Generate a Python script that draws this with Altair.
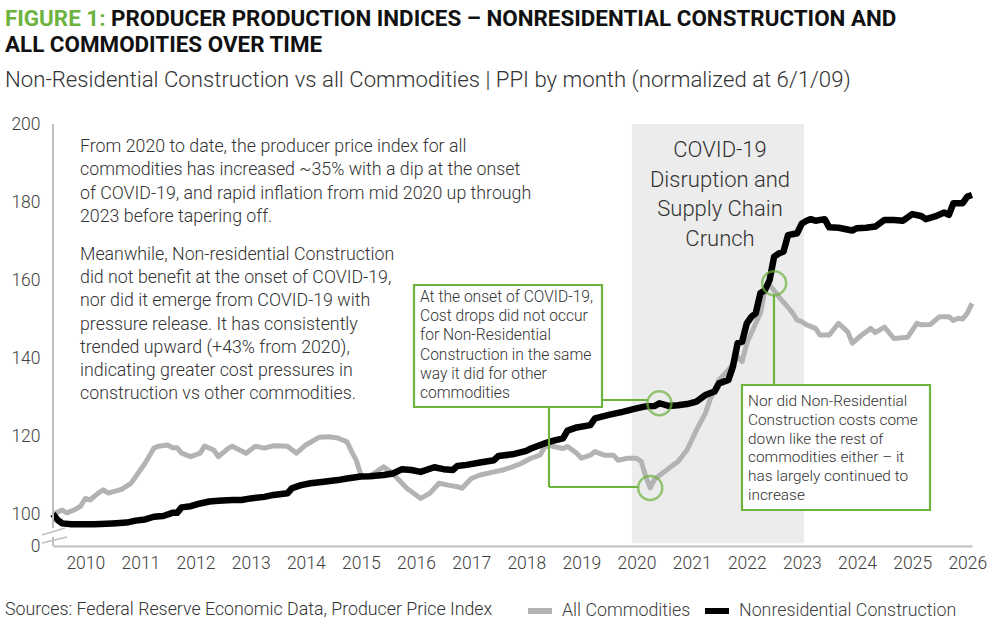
import altair as alt
import pandas as pd

# ---- Producer price indices, normalized to 100 at June 2009 ----
commodities_months = [
    "2009-06", "2009-08", "2009-09", "2009-11", "2009-12", "2010-01", "2010-02", "2010-04",
    "2010-05", "2010-06", "2010-08", "2010-09", "2010-11", "2010-12", "2011-02", "2011-04",
    "2011-05", "2011-07", "2011-08", "2011-09", "2011-10", "2011-12", "2012-02", "2012-03",
    "2012-05", "2012-06", "2012-08", "2012-09", "2012-12", "2013-02", "2013-04", "2013-06",
    "2013-09", "2013-11", "2014-01", "2014-04", "2014-06", "2014-08", "2014-10", "2014-11",
    "2014-12", "2015-01", "2015-02", "2015-03", "2015-05", "2015-06", "2015-07", "2015-09",
    "2015-11", "2016-01", "2016-02", "2016-04", "2016-06", "2016-08", "2016-10", "2016-11",
    "2017-01", "2017-03", "2017-06", "2017-08", "2017-10", "2017-12", "2018-02", "2018-04",
    "2018-05", "2018-06", "2018-07", "2018-09", "2018-10", "2018-12", "2019-01", "2019-03",
    "2019-04", "2019-06", "2019-08", "2019-09", "2019-11", "2020-01", "2020-02", "2020-03",
    "2020-04", "2020-05", "2020-08", "2020-10", "2020-12", "2021-02", "2021-04", "2021-05",
    "2021-07", "2021-09", "2021-11", "2021-12", "2022-01", "2022-03", "2022-04", "2022-05",
    "2022-06", "2022-08", "2022-10", "2022-11", "2022-12", "2023-01", "2023-02", "2023-04",
    "2023-05", "2023-07", "2023-09", "2023-11", "2023-12", "2024-02", "2024-03", "2024-04",
    "2024-05", "2024-07", "2024-09", "2024-12", "2025-02", "2025-03", "2025-05", "2025-07",
    "2025-09", "2025-10", "2025-11", "2025-12", "2026-01", "2026-02",
]
commodities_values = [
    100.0, 101.0, 100.3, 101.3, 102.0, 104.0, 103.6, 105.5,
    106.2, 105.4, 106.0, 106.4, 107.9, 109.6, 113.0, 116.9,
    117.4, 117.7, 117.0, 117.0, 115.6, 114.7, 115.6, 117.4,
    116.4, 114.7, 116.7, 117.4, 115.6, 117.4, 116.9, 117.5,
    117.4, 115.6, 117.7, 119.7, 119.8, 119.5, 118.5, 116.0,
    113.8, 110.0, 109.6, 109.6, 111.3, 112.1, 111.3, 109.1,
    106.6, 104.9, 104.0, 105.3, 107.9, 107.4, 107.0, 106.6,
    109.1, 110.0, 110.8, 111.3, 112.1, 113.0, 114.3, 115.1,
    117.0, 117.7, 117.3, 116.8, 117.3, 115.6, 114.3, 115.1,
    116.0, 115.1, 115.1, 113.8, 114.3, 114.3, 113.5, 109.8,
    106.7, 109.0, 111.7, 113.4, 116.4, 121.5, 125.8, 129.2,
    134.4, 136.9, 140.3, 139.1, 143.8, 148.9, 151.5, 157.4,
    158.8, 155.7, 153.0, 151.5, 149.7, 149.3, 148.5, 147.6,
    145.9, 145.9, 148.9, 146.7, 143.8, 145.9, 146.7, 147.6,
    146.5, 147.9, 145.0, 145.3, 148.9, 148.5, 148.6, 150.6,
    150.6, 149.6, 150.2, 150.0, 151.5, 154.0,
]

construction_months = [
    "2009-06", "2009-07", "2009-08", "2009-10", "2009-12", "2010-03", "2010-07", "2010-10",
    "2010-12", "2011-02", "2011-04", "2011-06", "2011-08", "2011-09", "2011-10", "2011-12",
    "2012-02", "2012-04", "2012-06", "2012-09", "2012-11", "2013-01", "2013-04", "2013-06",
    "2013-09", "2013-10", "2013-12", "2014-02", "2014-05", "2014-08", "2014-10", "2015-01",
    "2015-03", "2015-06", "2015-08", "2015-10", "2015-12", "2016-02", "2016-05", "2016-07",
    "2016-09", "2016-10", "2016-12", "2017-03", "2017-06", "2017-07", "2017-10", "2018-01",
    "2018-02", "2018-05", "2018-07", "2018-09", "2018-10", "2018-12", "2019-03", "2019-04",
    "2019-07", "2019-10", "2020-01", "2020-03", "2020-05", "2020-06", "2020-08", "2020-10",
    "2020-12", "2021-02", "2021-04", "2021-06", "2021-07", "2021-09", "2021-10", "2021-11",
    "2021-12", "2022-01", "2022-02", "2022-03", "2022-04", "2022-05", "2022-06", "2022-07",
    "2022-08", "2022-09", "2022-10", "2022-12", "2023-01", "2023-02", "2023-03", "2023-04",
    "2023-06", "2023-07", "2023-09", "2023-12", "2024-01", "2024-03", "2024-05", "2024-07",
    "2024-09", "2024-11", "2025-01", "2025-03", "2025-04", "2025-06", "2025-08", "2025-09",
    "2025-10", "2025-12", "2026-01", "2026-02",
]
construction_values = [
    100.0, 98.5, 97.6, 97.4, 97.4, 97.4, 97.6, 97.8,
    98.3, 98.6, 99.3, 99.5, 100.3, 100.3, 101.7, 102.0,
    102.7, 103.2, 103.4, 103.6, 103.6, 104.0, 104.4, 104.9,
    105.3, 106.6, 107.4, 107.9, 108.3, 108.7, 109.1, 109.6,
    109.7, 110.0, 110.4, 111.5, 111.3, 110.8, 112.0, 111.5,
    111.3, 112.3, 112.6, 113.2, 113.8, 114.9, 115.3, 116.2,
    116.8, 118.1, 118.8, 119.4, 121.4, 122.2, 122.8, 124.5,
    125.4, 126.2, 127.1, 127.6, 127.7, 128.4, 127.7, 127.9,
    128.2, 128.8, 130.5, 131.4, 133.5, 134.4, 137.8, 143.8,
    144.2, 148.9, 150.6, 151.5, 156.6, 157.4, 160.0, 166.0,
    166.8, 167.3, 171.5, 172.0, 174.5, 175.2, 175.6, 175.2,
    175.6, 173.5, 173.4, 172.7, 173.3, 173.4, 173.7, 175.4,
    175.4, 175.2, 176.9, 176.4, 175.6, 176.3, 177.3, 176.7,
    179.7, 179.7, 181.4, 181.8,
]

series_names = ["All Commodities", "Nonresidential Construction"]
series_colors = ["#b3b3b3", "#000000"]

year_ticks = list(range(2010, 2027))
y_ticks = [100, 120, 140, 160, 180, 200]
Y_FLOOR = 91.8  # bottom of the broken value axis, labelled "0"

# COVID-19 disruption period
covid_start = ["2019-12-01"]
covid_end = ["2023-01-15"]
covid_top = [200]
covid_bottom = [92.5]

# highlighted points: construction at onset, commodities dip, crossover peak
highlight_months = ["2020-06", "2020-04", "2022-07"]
highlight_values = [128.4, 106.7, 159.2]

GREEN = "#6db33f"
TEXT = "#333333"
FONT = "Roboto"

W, H = 919, 422

rows = []
for m, v in zip(commodities_months, commodities_values):
    rows.append({"date": m + "-01", "series": series_names[0], "ppi": v})
for m, v in zip(construction_months, construction_values):
    rows.append({"date": m + "-01", "series": series_names[1], "ppi": v})
df = pd.DataFrame(rows)

one = pd.DataFrame({"k": [0]})

x_scale = alt.Scale(
    type="utc",
    domain=[alt.DateTime(year=2009, month=6, date=1, utc=True),
            alt.DateTime(year=2026, month=2, date=1, utc=True)],
)
y_scale = alt.Scale(domain=[Y_FLOOR, 200], nice=False, zero=False)

x_axis = alt.Axis(
    values=[alt.DateTime(year=y, month=1, date=1, utc=True) for y in year_ticks],
    format="%Y", ticks=False, grid=False, domainColor="#bfbfbf", domainWidth=2,
    labelFont=FONT, labelFontSize=17.5, labelFontWeight=300, labelColor="#404040",
    labelPadding=8, labelFlush=False, labelOverlap=False, title=None,
)
y_axis = alt.Axis(
    values=[Y_FLOOR] + y_ticks, format="d",
    labelExpr="datum.value < 95 ? '0' : datum.label",
    ticks=False, grid=False, domain=False,
    labelFont=FONT, labelFontSize=17.5, labelFontWeight=300, labelColor="#404040",
    labelPadding=13, title=None,
)

x_enc = alt.X("date:T", scale=x_scale, axis=x_axis, title=None)
y_enc = alt.Y("ppi:Q", scale=y_scale, axis=y_axis, title=None)
color_enc = alt.Color(
    "series:N",
    scale=alt.Scale(domain=series_names, range=series_colors),
    legend=alt.Legend(
        orient="none", legendX=472, legendY=472, direction="horizontal", title=None,
        symbolType="stroke", symbolSize=576, symbolStrokeWidth=6,
        labelFont=FONT, labelFontSize=17.8, labelFontWeight=300, labelColor="#404040",
        labelOffset=7, columnPadding=2, padding=0, labelLimit=400,
    ),
)

shade = alt.Chart(pd.DataFrame({
    "start": covid_start, "end": covid_end, "top": covid_top, "bottom": covid_bottom
})).mark_rect(color="#ececec").encode(
    x=alt.X("start:T", scale=x_scale, axis=x_axis, title=None),
    x2="end:T",
    y=alt.Y("top:Q", scale=y_scale, axis=y_axis, title=None),
    y2="bottom:Q",
)

line_commod = alt.Chart(df).transform_filter(
    alt.datum.series == series_names[0]
).mark_line(strokeWidth=5, strokeJoin="round").encode(x=x_enc, y=y_enc, color=color_enc)

line_constr = alt.Chart(df).transform_filter(
    alt.datum.series == series_names[1]
).mark_line(strokeWidth=6.5, strokeJoin="round").encode(x=x_enc, y=y_enc, color=color_enc)


def rule(x1, y1, x2, y2, color=GREEN, width=2.2):
    return alt.Chart(one).mark_rule(color=color, strokeWidth=width).encode(
        x=alt.value(x1), y=alt.value(y1), x2=alt.value(x2), y2=alt.value(y2)
    )


def box(x1, y1, x2, y2):
    return alt.Chart(one).mark_rect(fill="white", stroke=GREEN, strokeWidth=2.2).encode(
        x=alt.value(x1), y=alt.value(y1), x2=alt.value(x2), y2=alt.value(y2)
    )


def text(lines, x, y, size, color=TEXT, weight=300, align="left", line_height=None):
    kw = dict(font=FONT, fontSize=size, fontWeight=weight, color=color, align=align,
              baseline="alphabetic", text=lines)
    if line_height:
        kw["lineHeight"] = line_height
    return alt.Chart(one).mark_text(**kw).encode(x=alt.value(x), y=alt.value(y))


# value-axis line with a break near the bottom
axis_parts = [
    rule(0, 0, 0, 404, color="#bfbfbf", width=2),
    rule(0, 413, 0, H, color="#bfbfbf", width=2),
    rule(-11, 411, 12, 404, color="#bfbfbf", width=1.5),
    rule(-11, 419, 14, 413, color="#bfbfbf", width=1.5),
]

connectors = [
    rule(549, 276, 595, 276),
    rule(496, 283, 496, 363),
    rule(496, 363, 585, 363),
    rule(721, 171, 721, 261),
]

boxes = [box(361, 161, 549, 283), box(689, 261, 877, 386)]

circles = alt.Chart(pd.DataFrame({
    "date": [m + "-01" for m in highlight_months], "ppi": highlight_values
})).mark_point(shape="circle", size=576, filled=False, stroke=GREEN, strokeWidth=2.5).encode(
    x=alt.X("date:T", scale=x_scale, axis=x_axis, title=None),
    y=alt.Y("ppi:Q", scale=y_scale, axis=y_axis, title=None),
)

texts = [
    text(["From 2020 to date, the producer price index for all",
          "commodities has increased ~35% with a dip at the onset",
          "of COVID-19, and rapid inflation from mid 2020 up through",
          "2023 before tapering off."], 27, 28, 17.8, line_height=23.3),
    text(["Meanwhile, Non-residential Construction",
          "did not benefit at the onset of COVID-19,",
          "nor did it emerge from COVID-19 with",
          "pressure release.  It has consistently",
          "trended upward (+43% from 2020),",
          "indicating greater cost pressures in",
          "construction vs other commodities."], 27, 136, 17.8, line_height=23.2),
    text(["COVID-19", "Disruption and", "Supply Chain", "Crunch"], 667, 33, 22,
         align="center", line_height=29.5),
    text(["At the onset of COVID-19,", "Cost drops did not occur",
          "for Non-Residential", "Construction in the same",
          "way it did for other", "commodities"], 367, 178, 15.6, line_height=19.2),
    text(["Nor did Non-Residential", "Construction costs come",
          "down like the rest of", "commodities either \u2013 it",
          "has largely continued to", "increase"], 695, 282, 15.4, line_height=18.8),
    # heading, subtitle and source note
    text("FIGURE 1:", -48, -98, 22.4, color=GREEN, weight="bold"),
    text("PRODUCER PRODUCTION INDICES \u2013 NONRESIDENTIAL CONSTRUCTION AND",
         58, -98, 22.4, color="#111111", weight="bold"),
    text("ALL COMMODITIES OVER TIME", -48, -72, 22.4, color="#111111", weight="bold"),
    text("Non-Residential Construction vs all Commodities | PPI by month (normalized at 6/1/09)",
         -48, -37, 22.2),
    text("Sources: Federal Reserve Economic Data, Producer Price Index", -48, 491, 17.8),
]

chart = alt.layer(
    shade, line_commod, line_constr, *axis_parts, *connectors, *boxes, circles, *texts
).properties(
    width=W, height=H,
    autosize=alt.AutoSizeParams(type="none"),
    padding={"left": 53, "top": 124, "right": 28, "bottom": 80},
    background="white",
).configure_view(stroke=None)

chart.save("out.html", embed_options={"renderer": "svg", "actions": False})
